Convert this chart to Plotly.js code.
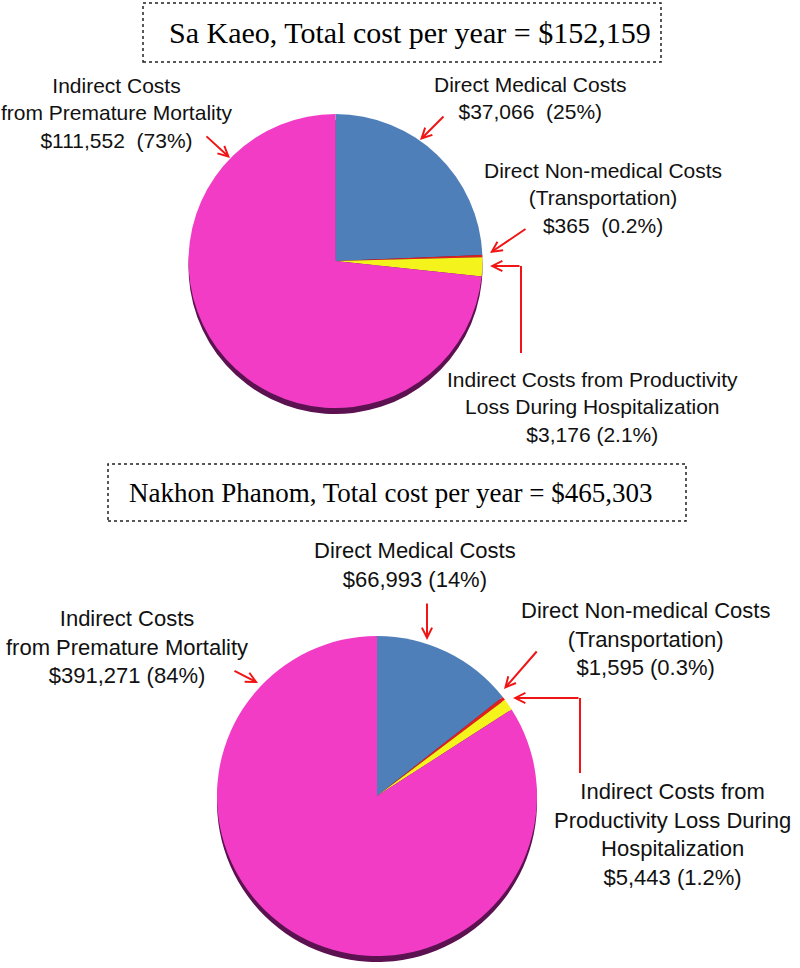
<!DOCTYPE html>
<html>
<head>
<meta charset="utf-8">
<script src="https://cdn.plot.ly/plotly-3.0.1.min.js"></script>
<style>html,body{margin:0;padding:0;background:#fff;}#chart{width:800px;height:968px;}</style>
</head>
<body>
<div id="chart"></div>
<script>
// ---- data ----
const categories = ['Direct Medical Costs', 'Direct Non-medical Costs (Transportation)',
  'Indirect Costs from Productivity Loss During Hospitalization', 'Indirect Costs from Premature Mortality'];
const saKaeoValues = [37066, 365, 3176, 111552];
const saKaeoPct = ['25%', '0.2%', '2.1%', '73%'];
const nakhonValues = [66993, 1595, 5443, 391271];
const nakhonPct = ['14%', '0.3%', '1.2%', '84%'];
const chartTitles = ['Sa Kaeo, Total cost per year = $152,159', 'Nakhon Phanom, Total cost per year = $465,303'];
const sliceColors = ['#4f7fb9', '#e3201b', '#f4f41c', '#f23cc6'];

// ---- helpers ----
const W = 800, H = 968;
const px = v => v / W;
const py = v => 1 - v / H;
const money = v => '$' + v.toLocaleString('en-US');
const NB = '\u00a0';

function dom(cx, cy, r, dy) {
  dy = dy || 0;
  return { x: [px(cx - r), px(cx + r)], y: [py(cy + r + dy), py(cy - r + dy)] };
}
function pieTrace(values, d, colors) {
  return {
    type: 'pie', values: values, labels: categories, sort: false, direction: 'clockwise', rotation: 0,
    marker: { colors: colors, line: { width: 0 } }, textinfo: 'none', hoverinfo: 'label+value',
    showlegend: false, domain: d
  };
}
const shadow = '#5c1250';
const traces = [
  pieTrace(saKaeoValues, dom(335.5, 261, 147, 6), saKaeoValues.map(() => shadow)),
  pieTrace(saKaeoValues, dom(335.5, 261, 147), sliceColors),
  pieTrace(nakhonValues, dom(377, 796, 160, 6), nakhonValues.map(() => shadow)),
  pieTrace(nakhonValues, dom(377, 796, 160), sliceColors)
];

const sans = 'Liberation Sans, Arial, sans-serif';
function label(x, y, text, size) {
  return { xref: 'paper', yref: 'paper', x: px(x), y: py(y), text: text, showarrow: false,
    xanchor: 'center', yanchor: 'middle', align: 'center', font: { family: sans, size: size, color: '#111' } };
}
function arrow(tx, ty, hx, hy) {
  return { xref: 'paper', yref: 'paper', x: px(hx), y: py(hy), ax: tx - hx, ay: ty - hy, text: '',
    showarrow: true, arrowhead: 5, arrowsize: 1, arrowwidth: 2, arrowcolor: '#f01414', standoff: 0 };
}
function title(x, y, text, size) {
  return { xref: 'paper', yref: 'paper', x: px(x), y: py(y), text: text, showarrow: false,
    xanchor: 'center', yanchor: 'middle', font: { family: 'Liberation Serif, Times New Roman, serif', size: size, color: '#000' } };
}

const annotations = [
  title(409.5, 33, chartTitles[0], 30),
  label(117, 113, 'Indirect Costs<br>from Premature Mortality<br>' + money(saKaeoValues[3]) + NB + ' (' + saKaeoPct[3] + ')', 21),
  label(530, 98, categories[0] + '<br>' + money(saKaeoValues[0]) + NB + ' (' + saKaeoPct[0] + ')', 21),
  label(603, 198, 'Direct Non-medical Costs<br>(Transportation)<br>' + money(saKaeoValues[1]) + NB + ' (' + saKaeoPct[1] + ')', 21),
  label(592, 407, 'Indirect Costs from Productivity<br>Loss During Hospitalization<br>' + money(saKaeoValues[2]) + ' (' + saKaeoPct[2] + ')', 21),
  arrow(205, 135, 230, 158),
  arrow(445, 115, 420, 140),
  arrow(527, 228, 490, 253),
  arrow(521, 266, 490, 266),

  title(390.5, 493, chartTitles[1], 27),
  label(415, 565, categories[0] + '<br>' + money(nakhonValues[0]) + ' (' + nakhonPct[0] + ')', 22),
  label(127, 647, 'Indirect Costs<br>from Premature Mortality<br>' + money(nakhonValues[3]) + ' (' + nakhonPct[3] + ')', 22),
  label(645, 639, 'Direct Non-medical Costs<br>(Transportation)<br>' + money(nakhonValues[1]) + ' (' + nakhonPct[1] + ')', 22),
  label(672, 834, 'Indirect Costs from<br>Productivity Loss During<br>Hospitalization<br>' + money(nakhonValues[2]) + ' (' + nakhonPct[2] + ')', 22),
  arrow(427, 602, 427, 640),
  arrow(233, 670, 258, 683),
  arrow(538, 650, 504, 689),
  arrow(580, 698, 513, 698)
];

const shapes = [
  { type: 'rect', xref: 'paper', yref: 'paper', x0: px(143), x1: px(661), y0: py(62), y1: py(3),
    line: { color: '#222', width: 1.5, dash: 'dot' } },
  { type: 'rect', xref: 'paper', yref: 'paper', x0: px(108), x1: px(686), y0: py(521), y1: py(464),
    line: { color: '#222', width: 1.5, dash: 'dot' } },
  { type: 'line', xref: 'paper', yref: 'paper', x0: px(521), x1: px(521), y0: py(353), y1: py(266),
    line: { color: '#f01414', width: 2 } },
  { type: 'line', xref: 'paper', yref: 'paper', x0: px(580), x1: px(580), y0: py(773), y1: py(698),
    line: { color: '#f01414', width: 2 } }
];

const layout = {
  width: W, height: H, margin: { l: 0, r: 0, t: 0, b: 0 },
  paper_bgcolor: '#fff', plot_bgcolor: '#fff', showlegend: false,
  annotations: annotations, shapes: shapes
};
Plotly.newPlot('chart', traces, layout, { displayModeBar: false, staticPlot: true });
</script>
</body>
</html>
